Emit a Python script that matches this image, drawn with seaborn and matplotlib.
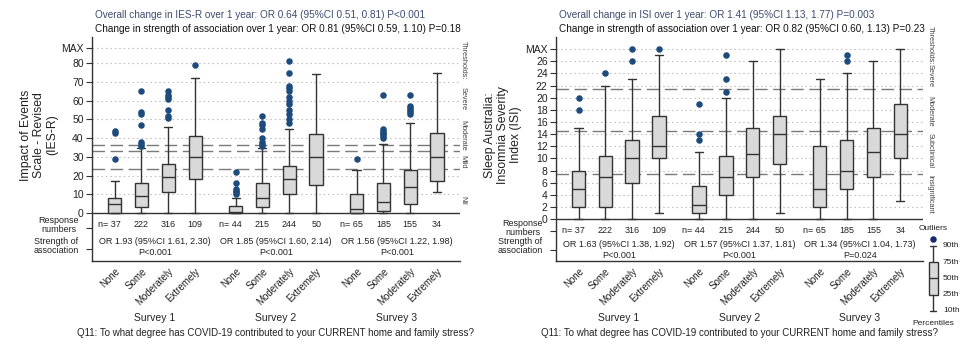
import matplotlib
matplotlib.use('Agg')
import numpy as np
import pandas as pd
import matplotlib.pyplot as plt
import matplotlib.transforms as mtransforms
import seaborn as sns

sns.set_theme(style='ticks')
plt.rcParams['font.family'] = ['Liberation Sans', 'DejaVu Sans']

# 1. Dados
surveys = ['Survey 1', 'Survey 2', 'Survey 3']
categorias = ['None', 'Some', 'Moderately', 'Extremely']
n_respostas = [37, 222, 316, 109, 44, 215, 244, 50, 65, 185, 155, 34]

# IES-R (percentis 10, 25, 50, 75, 90 e outliers)
ies_p10 = [0, 0, 0, 0, 0, 0, 0, 0, 0, 0, 0, 11]
ies_q1 = [0, 3, 11, 18, 0, 3, 10, 15, 0, 1, 5, 17]
ies_med = [5, 9, 19, 30, 0.5, 8, 18, 30, 2, 6, 14, 30]
ies_q3 = [8, 16, 26, 41, 4, 16, 25, 42, 10, 16, 23, 43]
ies_p90 = [17, 35, 46, 72, 8, 35, 45, 74, 23, 37, 48, 75]
ies_outliers = [[29, 43, 44], [36, 37, 38, 47, 53, 54, 65], [51, 52, 55, 61, 62, 63, 65], [79],
                [10, 11, 12, 13, 16, 22], [36, 37, 38, 40, 45, 47, 48, 52],
                [48, 50, 53, 55, 58, 60, 62, 65, 67, 68, 75, 81], [],
                [29], [40, 41, 42, 43, 44, 45, 63], [53, 54, 55, 56, 57, 63], []]
ies_or = ['OR 1.93 (95%CI 1.61, 2.30)', 'OR 1.85 (95%CI 1.60, 2.14)', 'OR 1.56 (95%CI 1.22, 1.98)']
ies_p = ['P<0.001', 'P<0.001', 'P<0.001']
ies_limiares = [23.5, 33, 36.5]
ies_rotulos = ['Thresholds:', 'Severe', 'Moderate', 'Mild', 'Nil']
ies_rotulos_y = [81.5, 61, 41.5, 27.5, 7]
ies_ticks = [0, 10, 20, 30, 40, 50, 60, 70, 80, 88]
ies_titulo1 = 'Overall change in IES-R over 1 year: OR 0.64 (95%CI 0.51, 0.81) P<0.001'
ies_titulo2 = 'Change in strength of association over 1 year: OR 0.81 (95%CI 0.59, 1.10) P=0.18'

# ISI
isi_p10 = [0, 0, 0, 1, 0, 0, 0, 1, 0, 0, 0, 3]
isi_q1 = [2, 2, 6, 10, 1, 4, 7, 9, 2, 5, 7, 10]
isi_med = [5, 7, 10, 12, 2.3, 7, 10.8, 14, 5, 8, 11, 14]
isi_q3 = [8, 10.4, 13, 17, 5.4, 10.4, 15, 17, 12, 13, 15, 19]
isi_p90 = [15, 22, 23, 27, 11, 20, 26, 28, 23, 24, 26, 28]
isi_outliers = [[18, 20], [24], [26, 28], [28], [13, 14, 19], [21, 23, 27], [], [],
                [], [26, 27], [], []]
isi_or = ['OR 1.63 (95%CI 1.38, 1.92)', 'OR 1.57 (95%CI 1.37, 1.81)', 'OR 1.34 (95%CI 1.04, 1.73)']
isi_p = ['P<0.001', 'P<0.001', 'P=0.024']
isi_limiares = [7.5, 14.5, 21.5]
isi_rotulos = ['Thresholds:', 'Severe', 'Moderate', 'Subclinical', 'Insignificant']
isi_rotulos_y = [28.6, 23.6, 17.8, 11.3, 4.1]
isi_ticks = [0, 2, 4, 6, 8, 10, 12, 14, 16, 18, 20, 22, 24, 26, 28]
isi_titulo1 = 'Overall change in ISI over 1 year: OR 1.41 (95%CI 1.13, 1.77) P=0.003'
isi_titulo2 = 'Change in strength of association over 1 year: OR 0.82 (95%CI 0.60, 1.13) P=0.23'

pergunta = 'Q11: To what degree has COVID-19 contributed to your CURRENT home and family stress?'
percentis_legenda = ['10th', '25th', '50th', '75th', '90th']

# 2. Cores e estilo
COR_CAIXA = '#d9d9d9'
COR_LINHA = '#333333'
COR_PONTO = '#1d4b7c'
COR_TITULO = '#3c4c70'
COR_TEXTO = '#222222'

posicoes = [s * 4.5 + c for s in range(len(surveys)) for c in range(len(categorias))]

fig = plt.figure(figsize=(9.73, 3.47), dpi=100)
fig.patch.set_facecolor('white')


def painel(rect, p10, q1, med, q3, p90, outliers, textos_or, textos_p, limiares,
           rotulos, rotulos_y, ticks, ylim, y_n, y_or, y_p, y_resp, y_forca,
           lab_resp, lab_forca, ylabel, ylabel_x, titulos, rot_x):
    ax = fig.add_axes(rect)
    ax.set_facecolor('white')

    # linhas de grade pontilhadas
    for t in ticks[1:]:
        ax.axhline(t, color='#c4c4c4', lw=0.8, ls=(0, (1.5, 2.5)), zorder=0)
    # limiares
    for lim in limiares:
        ax.axhline(lim, color='#7a7a7a', lw=1.0, dashes=(9, 4), zorder=1)
    ax.axhline(0, color=COR_LINHA, lw=1.0, zorder=2)

    stats = [dict(whislo=a, q1=b, med=c, q3=d, whishi=e, fliers=[])
             for a, b, c, d, e in zip(p10, q1, med, q3, p90)]
    ax.bxp(stats, positions=posicoes, widths=0.5, capwidths=0.3, patch_artist=True,
           showfliers=False, manage_ticks=False,
           boxprops=dict(facecolor=COR_CAIXA, edgecolor=COR_LINHA, lw=1.0),
           medianprops=dict(color=COR_LINHA, lw=1.0),
           whiskerprops=dict(color=COR_LINHA, lw=1.0),
           capprops=dict(color=COR_LINHA, lw=1.0))

    df_out = pd.DataFrame([(p, v) for p, vals in zip(posicoes, outliers) for v in vals],
                          columns=['pos', 'valor'])
    sns.scatterplot(data=df_out, x='pos', y='valor', ax=ax, color=COR_PONTO, s=22,
                    linewidth=0, legend=False, zorder=4)

    ax.set_xlim(-0.84, 12.85)
    ax.set_ylim(*ylim)
    ax.set_xlabel('')
    ax.set_ylabel('')

    # eixos
    for lado in ['top', 'right']:
        ax.spines[lado].set_visible(False)
    for lado in ['left', 'bottom']:
        ax.spines[lado].set_color(COR_LINHA)
        ax.spines[lado].set_linewidth(1.0)

    rot_ticks = [str(t) for t in ticks[:-1]] + ['MAX']
    ax.set_yticks([y_forca, y_resp] + ticks)
    ax.set_yticklabels(['', ''] + rot_ticks, fontsize=7.5, color=COR_TEXTO)
    ax.tick_params(axis='y', length=4, width=0.8, color=COR_LINHA, pad=2)

    # rotulos das linhas de texto (fora do eixo)
    trans_lim = mtransforms.blended_transform_factory(ax.transAxes, ax.transData)
    dx = -13 / (rect[2] * 973)
    ax.text(dx, lab_resp, 'Response\nnumbers', transform=trans_lim, ha='right', va='center',
            multialignment='center', fontsize=6.5, linespacing=0.95, color=COR_TEXTO)
    ax.text(dx, lab_forca, 'Strength of\nassociation', transform=trans_lim, ha='right', va='center',
            multialignment='center', fontsize=6.5, linespacing=0.95, color=COR_TEXTO)

    ax.set_xticks(posicoes)
    ax.set_xticklabels(categorias * len(surveys), rotation=45, ha='right',
                       rotation_mode='anchor', fontsize=7, color=COR_TEXTO)
    ax.tick_params(axis='x', length=0, pad=4)

    # numeros de respostas e OR
    for i, (p, n) in enumerate(zip(posicoes, n_respostas)):
        if i % 4 == 0:
            ax.text(p + 0.22, y_n, f'n= {n}', ha='right', va='center', fontsize=6.5, color=COR_TEXTO)
        else:
            ax.text(p, y_n, str(n), ha='center', va='center', fontsize=6.5, color=COR_TEXTO)
    centros = [s * 4.5 + 1.5 for s in range(len(surveys))]
    trans_fig = mtransforms.blended_transform_factory(ax.transData, fig.transFigure)
    for c, txt_or, txt_p, nome in zip(centros, textos_or, textos_p, surveys):
        ax.text(c, y_or, txt_or, ha='center', va='center', fontsize=6.5, color=COR_TEXTO)
        ax.text(c, y_p, txt_p, ha='center', va='center', fontsize=6.5, color=COR_TEXTO)
        ax.text(c, 1 - 318 / 347, nome, transform=trans_fig, ha='center', va='center',
                fontsize=7.5, color=COR_TEXTO)
    ax.text(6, 1 - 333 / 347, pergunta, transform=trans_fig, ha='center', va='center',
            fontsize=7, color=COR_TEXTO)

    # rotulos dos limiares
    for r, y in zip(rotulos, rotulos_y):
        ax.text(rot_x, y, r, transform=trans_lim, rotation=270, ha='center', va='center',
                fontsize=5.3, color='#444444')

    # titulo do eixo y
    fig.text(ylabel_x, 1 - 135 / 347, ylabel, rotation=90, ha='center', va='center',
             multialignment='center', fontsize=8.8, color=COR_TEXTO, linespacing=1.15)

    # titulos
    x0 = rect[0] + 3 / 973
    fig.text(x0, 1 - 15 / 347, titulos[0], ha='left', va='center', fontsize=7.2, color=COR_TITULO)
    fig.text(x0, 1 - 29 / 347, titulos[1], ha='left', va='center', fontsize=7.2, color='#111111')
    return ax


ax1 = painel([92 / 973, 1 - 261 / 347, 368 / 973, 224 / 347],
             ies_p10, ies_q1, ies_med, ies_q3, ies_p90, ies_outliers, ies_or, ies_p,
             ies_limiares, ies_rotulos, ies_rotulos_y, ies_ticks, (-25.6, 94),
             -6, -15.2, -21, -8, -19.2, -6.4, -17.6,
             'Impact of Events\nScale - Revised\n(IES-R)', 39 / 973, [ies_titulo1, ies_titulo2], 1.008)

ax2 = painel([556 / 973, 1 - 261 / 347, 367 / 973, 224 / 347],
             isi_p10, isi_q1, isi_med, isi_q3, isi_p90, isi_outliers, isi_or, isi_p,
             isi_limiares, isi_rotulos, isi_rotulos_y, isi_ticks, (-6.9, 30.0),
             -1.8, -4.2, -5.95, -2.0, -5.1, -1.5, -4.4,
             'Sleep Australia:\nInsomnia Severity\nIndex (ISI)', 503 / 973, [isi_titulo1, isi_titulo2], 1.02)

# 3. Legenda (caixa de percentis)
axl = fig.add_axes([915 / 973, 1 - 330 / 347, 36 / 973, 110 / 347])
axl.bxp([dict(whislo=0, q1=1, med=2, q3=3, whishi=4, fliers=[])], positions=[0], widths=0.5,
        capwidths=0.3, patch_artist=True, showfliers=False, manage_ticks=False,
        boxprops=dict(facecolor=COR_CAIXA, edgecolor=COR_LINHA, lw=1.0),
        medianprops=dict(color=COR_LINHA, lw=1.0),
        whiskerprops=dict(color=COR_LINHA, lw=1.0),
        capprops=dict(color=COR_LINHA, lw=1.0))
axl.scatter([0], [4.45], color='#1a2a6c', s=22, linewidths=0, zorder=4)
for i, p in enumerate(percentis_legenda):
    axl.text(0.55, i, p, ha='left', va='center', fontsize=6, color=COR_TEXTO)
axl.text(0, 5.1, 'Outliers', ha='center', va='center', fontsize=6, color=COR_TEXTO)
axl.text(0, -0.74, 'Percentiles', ha='center', va='center', fontsize=6, color=COR_TEXTO)
axl.set_xlim(-1, 1)
axl.set_ylim(-1.17, 5.6)
axl.axis('off')

fig.savefig('out.png', dpi=100, facecolor='white')
plt.close(fig)
